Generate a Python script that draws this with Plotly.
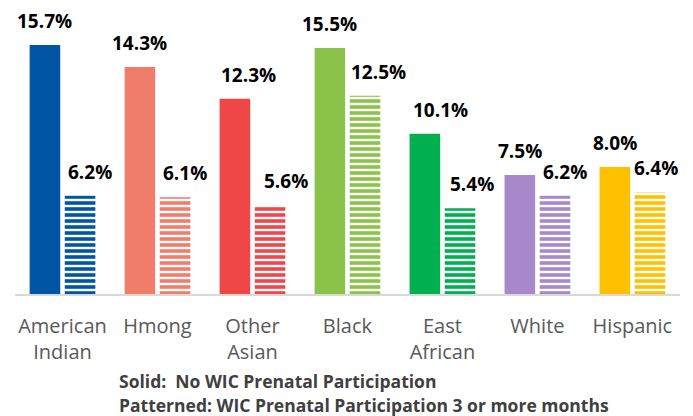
import plotly.graph_objects as go

# categories and values
groups = ["American<br>Indian", "Hmong", "Other<br>Asian", "Black", "East<br>African", "White", "Hispanic"]
no_wic = [15.7, 14.3, 12.3, 15.5, 10.1, 7.5, 8.0]
wic_3plus = [6.2, 6.1, 5.6, 12.5, 5.4, 6.2, 6.4]
group_colors = ["#0055A4", "#F07C6A", "#EF4647", "#8BC34A", "#00B050", "#A688CB", "#FFC000"]

# label nudges (pixels) so the labels sit like in the original
solid_nudge = [0, 0, 14, 0, 16, 0, 0]
pattern_nudge = [10, 10, 16, 13, 12, 10, 6]

BAR_OFFSET = 17.6  # half the distance between the two bars of a group, in px

fig = go.Figure()

fig.add_trace(go.Bar(
    x=groups,
    y=no_wic,
    name="No WIC",
    marker=dict(color=group_colors, line=dict(width=0)),
))

fig.add_trace(go.Bar(
    x=groups,
    y=wic_3plus,
    name="WIC 3+ months",
    marker=dict(
        color="white",
        line=dict(width=0),
        pattern=dict(shape="-", fgcolor=group_colors, bgcolor="white",
                     fillmode="replace", size=6, solidity=0.6),
    ),
))

# value labels
for g, v, n in zip(groups, no_wic, solid_nudge):
    fig.add_annotation(x=g, y=v, text=f"<b>{v:.1f}%</b>", showarrow=False,
                       xshift=-BAR_OFFSET + n, yshift=24, yanchor="middle",
                       font=dict(size=19, color="#000000", family="Open Sans"))
for g, v, n in zip(groups, wic_3plus, pattern_nudge):
    fig.add_annotation(x=g, y=v, text=f"<b>{v:.1f}%</b>", showarrow=False,
                       xshift=BAR_OFFSET + n, yshift=24, yanchor="middle",
                       font=dict(size=19, color="#000000", family="Open Sans"))

fig.add_annotation(
    text="<b>Solid:  No WIC Prenatal Participation</b>",
    xref="paper", yref="paper", x=(117 - 15) / 665, y=(294 - 381) / 274,
    xanchor="left", yanchor="middle", showarrow=False,
    font=dict(size=17.5, color="#404040", family="Open Sans"),
)
fig.add_annotation(
    text="<b>Patterned: WIC Prenatal Participation 3 or more months</b>",
    xref="paper", yref="paper", x=(117 - 15) / 665, y=(294 - 405) / 274,
    xanchor="left", yanchor="middle", showarrow=False,
    font=dict(size=17.5, color="#404040", family="Open Sans"),
)

fig.update_layout(
    width=693,
    height=416,
    barmode="group",
    bargap=0.26,
    bargroupgap=0.13,
    showlegend=False,
    margin=dict(l=15, r=13, t=20, b=122),
    paper_bgcolor="white",
    plot_bgcolor="white",
    font=dict(family="Open Sans", color="#595959"),
    xaxis=dict(
        showline=True,
        linecolor="#D9D9D9",
        linewidth=2,
        tickfont=dict(size=20, color="#595959", family="Open Sans"),
        ticks="",
        ticklabelstandoff=13,
    ),
    yaxis=dict(
        range=[0, 17.27],
        visible=False,
        showgrid=False,
    ),
)

fig.write_html("out.html", config={"displayModeBar": False},
               post_script="document.body.style.margin='0';")
